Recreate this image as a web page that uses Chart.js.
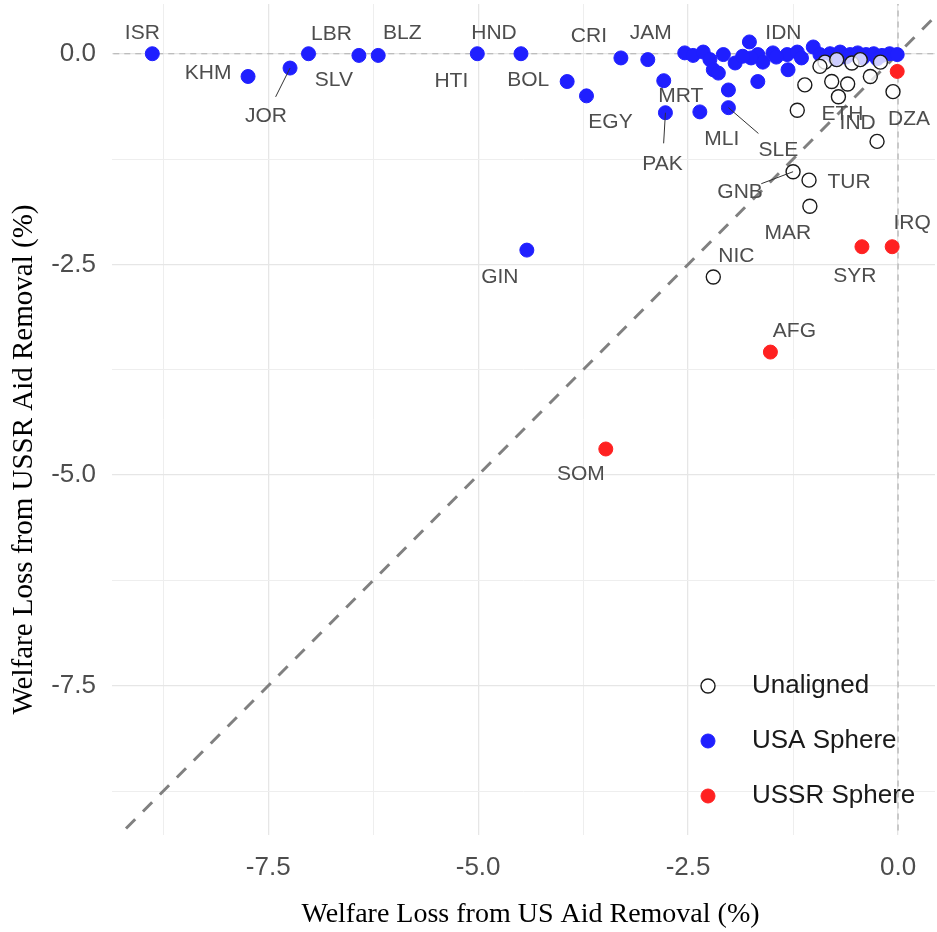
<!DOCTYPE html>
<html>
<head>
<meta charset="utf-8">
<script src="https://cdn.jsdelivr.net/npm/chart.js@4"></script>
<style>
  html, body { margin: 0; padding: 0; background: #fff; }
  #wrap { width: 937px; height: 932px; }
</style>
</head>
<body>
<div id="wrap"><canvas id="aidChart" width="937" height="932"></canvas></div>
<script>
// --- data (welfare loss, %) ---
const unalignedCodes = ['', '', '', 'IND', 'ETH', '', 'DZA', '', 'GNB', 'TUR', 'MAR', 'NIC', '', '', '', '', '', ''];
const unalignedX = [-1.11, -1.20, -0.79, -0.60, -0.71, -0.33, -0.06, -0.25, -1.25, -1.06, -1.05, -2.20, -0.87, -0.73, -0.55, -0.45, -0.93, -0.21];
const unalignedY = [-0.37, -0.67, -0.33, -0.36, -0.51, -0.27, -0.45, -1.04, -1.40, -1.50, -1.81, -2.65, -0.10, -0.07, -0.11, -0.07, -0.15, -0.10];

const usaCodes = ['ISR', 'KHM', 'JOR', 'LBR', 'SLV', 'BLZ', 'HTI', 'HND', 'GIN', 'BOL', 'EGY', 'CRI', 'JAM', 'MRT', 'PAK', 'MLI', '', 'SLE', 'IDN', '', '',
  '', '', '', '', '', '', '', '', '', '', '', '', '', '', '', '', '', '', '', '', '', '', '', '', '', '', '', '', '', '', '', ''];
const usaX = [-8.88, -7.74, -7.24, -7.02, -6.42, -6.19, -5.01, -4.49, -4.42, -3.94, -3.71, -3.30, -2.98, -2.79, -2.77, -2.36, -2.02, -2.02, -1.77, -1.67, -1.31,
  -2.54, -2.44, -2.32, -2.24, -2.08, -1.94, -2.20, -2.14, -1.67, -1.61, -1.49, -1.32, -1.20, -1.01, -0.93, -0.81, -0.69, -0.57, -0.48, -0.38, -0.29, -0.19, -0.10, -0.01,
  -1.45, -1.15, -0.75, -0.42, -0.25, -0.62, -1.75, -1.85];
const usaY = [0.00, -0.27, -0.17, 0.00, -0.02, -0.02, 0.00, 0.00, -2.33, -0.33, -0.50, -0.05, -0.07, -0.32, -0.70, -0.69, -0.43, -0.64, 0.14, -0.33, -0.19,
  0.01, -0.02, 0.02, -0.07, -0.01, -0.11, -0.19, -0.23, -0.01, -0.10, 0.01, -0.01, 0.02, 0.08, -0.01, 0.00, 0.02, -0.01, 0.01, -0.01, 0.00, -0.02, 0.00, -0.01,
  -0.04, -0.05, -0.06, -0.05, -0.06, -0.04, -0.05, -0.03];

const ussrCodes = ['', 'SYR', 'IRQ', 'AFG', 'SOM'];
const ussrX = [-0.01, -0.43, -0.07, -1.52, -3.48];
const ussrY = [-0.21, -2.29, -2.29, -3.54, -4.69];

const groupNames = ['Unaligned', 'USA Sphere', 'USSR Sphere'];
const tickValues = [-8.75, -7.5, -6.25, -5, -3.75, -2.5, -1.25, 0];
const xTitle = 'Welfare Loss from US Aid Removal (%)';
const yTitle = 'Welfare Loss from USSR Aid Removal (%)';

// label placement (pixel offset from the point, leader = draw a segment)
const labelOffsets = {
  ISR: [-10, -21], KHM: [-40, -3], JOR: [-24, 48, true], LBR: [23, -20], SLV: [-25, 25], BLZ: [24, -22],
  HTI: [-26, 27], HND: [-27, -21], BOL: [-39, -1], EGY: [24, 26], CRI: [-32, -22], JAM: [3, -26],
  IDN: [34, -9], MRT: [17, 16], PAK: [-3, 51, true], MLI: [22, 27], SLE: [50, 43, true], GNB: [-53, 20, true],
  TUR: [40, 2], MAR: [-22, 27], NIC: [23, -21], GIN: [-27, 27], SYR: [-7, 29], IRQ: [20, -24],
  AFG: [24, -21], SOM: [-25, 25], ETH: [4, 17], IND: [10, 39], DZA: [16, 28]
};

function toPoints(xs, ys) {
  return xs.map((x, i) => ({ x: x, y: ys[i] }));
}

const sans = "'Liberation Sans', Arial, sans-serif";
const serif = "'Liberation Serif', 'Times New Roman', serif";

// country codes drawn next to the points
const labelPlugin = {
  id: 'countryLabels',
  afterDatasetsDraw(chart) {
    const ctx = chart.ctx;
    const codeLists = [unalignedCodes, usaCodes, ussrCodes];
    ctx.save();
    ctx.font = '21px ' + sans;
    ctx.fillStyle = '#4d4d4d';
    ctx.textAlign = 'center';
    ctx.textBaseline = 'middle';
    codeLists.forEach((codes, di) => {
      const meta = chart.getDatasetMeta(di);
      codes.forEach((code, i) => {
        if (!code || !labelOffsets[code]) return;
        const p = meta.data[i];
        const off = labelOffsets[code];
        if (off[2]) {
          ctx.strokeStyle = '#333';
          ctx.lineWidth = 1;
          ctx.beginPath();
          ctx.moveTo(p.x, p.y);
          ctx.lineTo(p.x + off[0] * 0.6, p.y + off[1] * 0.6);
          ctx.stroke();
        }
        ctx.fillText(code, p.x + off[0], p.y + off[1]);
      });
    });
    ctx.restore();
  }
};

// legend in the lower right of the plot + both axis titles
const legendPlugin = {
  id: 'cornerLegend',
  afterDraw(chart) {
    const ctx = chart.ctx;
    const area = chart.chartArea;
    ctx.save();
    ctx.font = '26px ' + sans;
    ctx.textBaseline = 'middle';
    groupNames.forEach((name, i) => {
      const ds = chart.data.datasets[i];
      const cx = area.right - 227;
      const cy = area.bottom - 149 + i * 55;
      ctx.beginPath();
      ctx.arc(cx, cy, 7, 0, Math.PI * 2);
      ctx.fillStyle = i === 0 ? '#fff' : ds.backgroundColor;
      ctx.fill();
      ctx.lineWidth = ds.borderWidth;
      ctx.strokeStyle = ds.borderColor;
      ctx.stroke();
      ctx.fillStyle = '#1a1a1a';
      ctx.fillText(name, cx + 44, cy);
    });

    ctx.font = '28px ' + serif;
    ctx.fillStyle = '#000';
    ctx.textAlign = 'center';
    ctx.fillText(xTitle, (area.left + area.right) / 2 + 7, area.bottom + 80);

    ctx.translate(24, (area.top + area.bottom) / 2 + 40);
    ctx.rotate(-Math.PI / 2);
    ctx.font = '29px ' + serif;
    ctx.fillText(yTitle, 0, 0);
    ctx.restore();
  }
};

const gridLine = c => (c.tick && c.tick.value % 2.5 === 0 ? '#e6e6e6' : '#eeeeee');
const gridWidth = c => (c.tick && c.tick.value % 2.5 === 0 ? 1.3 : 1);

new Chart(document.getElementById('aidChart'), {
  type: 'scatter',
  data: {
    datasets: [
      {
        label: groupNames[0], data: toPoints(unalignedX, unalignedY),
        backgroundColor: 'rgba(255,255,255,0.78)', borderColor: '#1a1a1a', borderWidth: 1.4,
        pointRadius: 7, pointHoverRadius: 7
      },
      {
        label: groupNames[1], data: toPoints(usaX, usaY),
        backgroundColor: '#1f1fff', borderColor: '#1f1fff', borderWidth: 1,
        pointRadius: 7, pointHoverRadius: 7
      },
      {
        label: groupNames[2], data: toPoints(ussrX, ussrY),
        backgroundColor: '#ff2121', borderColor: '#ff2121', borderWidth: 1,
        pointRadius: 7, pointHoverRadius: 7
      },
      {
        type: 'line', label: 'diag', data: [{ x: -10, y: -10 }, { x: 1, y: 1 }],
        borderColor: '#808080', borderWidth: 3, borderDash: [13, 11], pointRadius: 0
      },
      {
        type: 'line', label: 'h0', data: [{ x: -10, y: 0 }, { x: 1, y: 0 }],
        borderColor: '#b0b0b0', borderWidth: 1.2, borderDash: [6, 5], pointRadius: 0
      },
      {
        type: 'line', label: 'v0', data: [{ x: 0, y: -10 }, { x: 0, y: 1 }],
        borderColor: '#b0b0b0', borderWidth: 1.2, borderDash: [6, 5], pointRadius: 0
      }
    ]
  },
  options: {
    responsive: false,
    animation: false,
    devicePixelRatio: 1,
    layout: { autoPadding: false, padding: { top: 4, right: 2, left: 0, bottom: 0 } },
    plugins: { legend: { display: false }, tooltip: { enabled: false } },
    scales: {
      x: {
        type: 'linear', min: -9.36, max: 0.44,
        afterBuildTicks: axis => { axis.ticks = tickValues.map(v => ({ value: v })); },
        afterFit: axis => { axis.height = 97; axis.paddingLeft = 0; axis.paddingRight = 0; },
        grid: { color: gridLine, lineWidth: gridWidth, drawTicks: false },
        border: { display: false },
        ticks: {
          padding: 17, color: '#4d4d4d', font: { family: sans, size: 26 },
          callback: v => (v % 2.5 === 0 ? v.toFixed(1) : '')
        },
        title: { display: false }
      },
      y: {
        type: 'linear', min: -9.27, max: 0.59,
        afterBuildTicks: axis => { axis.ticks = tickValues.map(v => ({ value: v })); },
        afterFit: axis => { axis.width = 112; axis.paddingTop = 0; axis.paddingBottom = 0; },
        grid: { color: gridLine, lineWidth: gridWidth, drawTicks: false },
        border: { display: false },
        ticks: {
          padding: 16, color: '#4d4d4d', font: { family: sans, size: 26 },
          callback: v => (v % 2.5 === 0 ? v.toFixed(1) : '')
        },
        title: { display: false }
      }
    }
  },
  plugins: [labelPlugin, legendPlugin]
});
</script>
</body>
</html>
